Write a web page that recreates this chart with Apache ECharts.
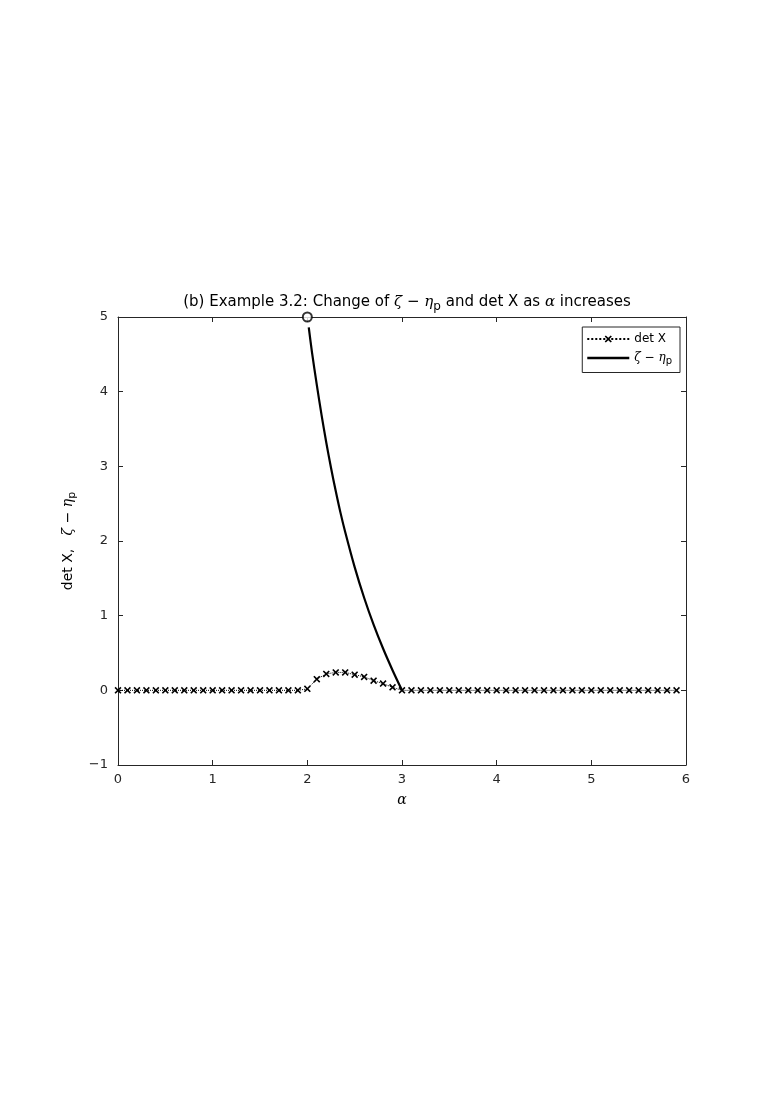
<!DOCTYPE html>
<html>
<head>
<meta charset="utf-8">
<script src="https://cdn.jsdelivr.net/npm/echarts@6/dist/echarts.min.js"></script>
<style>
body { margin: 0; background: #fff; }
#main { width: 779px; height: 1102px; }
</style>
</head>
<body>
<div id="main"></div>
<script>
// alpha samples for det X (step 0.1)
var alphaDet = [0, 0.1, 0.2, 0.3, 0.4, 0.5, 0.6, 0.7, 0.8, 0.9,
    1.0, 1.1, 1.2, 1.3, 1.4, 1.5, 1.6, 1.7, 1.8, 1.9,
    2.0, 2.1, 2.2, 2.3, 2.4, 2.5, 2.6, 2.7, 2.8, 2.9,
    3.0, 3.1, 3.2, 3.3, 3.4, 3.5, 3.6, 3.7, 3.8, 3.9,
    4.0, 4.1, 4.2, 4.3, 4.4, 4.5, 4.6, 4.7, 4.8, 4.9,
    5.0, 5.1, 5.2, 5.3, 5.4, 5.5, 5.6, 5.7, 5.8, 5.9];
var detX = [0, 0, 0, 0, 0, 0, 0, 0, 0, 0,
    0, 0, 0, 0, 0, 0, 0, 0, 0, 0,
    0.02, 0.15, 0.22, 0.24, 0.24, 0.21, 0.18, 0.13, 0.09, 0.04,
    0, 0, 0, 0, 0, 0, 0, 0, 0, 0,
    0, 0, 0, 0, 0, 0, 0, 0, 0, 0,
    0, 0, 0, 0, 0, 0, 0, 0, 0, 0];

// zeta - eta_p curve
var alphaZeta = [2.015, 2.05, 2.1, 2.15, 2.2, 2.25, 2.3, 2.35, 2.4, 2.5, 2.6, 2.7, 2.8, 2.9, 3.0];
var zetaEta = [4.86, 4.52, 4.09, 3.69, 3.32, 2.98, 2.67, 2.38, 2.12, 1.65, 1.24, 0.88, 0.56, 0.27, 0];

// start point marked with a circle
var startPoint = [2, 5];

var xTicks = [0, 6, 1];
var yTicks = [-1, 5, 1];

function pairs(xs, ys) {
    var res = [];
    for (var i = 0; i < xs.length; i++) {
        res.push([xs[i], ys[i]]);
    }
    return res;
}

var axisColor = '#262626';
var crossMark = 'path://M0,1.6L1.6,0L5,3.4L8.4,0L10,1.6L6.6,5L10,8.4L8.4,10L5,6.6L1.6,10L0,8.4L3.4,5Z';
var font = 'DejaVu Sans';
var plain = { fontFamily: font, fontSize: 14, fontWeight: 'normal', color: '#000' };
var greek = { fontFamily: 'DejaVu Serif', fontStyle: 'italic', fontWeight: 'normal', fontSize: 14, color: '#000' };
var sub = { fontFamily: font, fontSize: 11, fontWeight: 'normal', color: '#000', padding: [9, 0, 0, 0] };

var myChart = echarts.init(document.getElementById('main'));

var option = {
    animation: false,
    title: {
        text: '{n|(b) Example 3.2: Change of }{g|ζ}{n| − }{g|η}{s|p}{n| and det X as }{g|α}{n| increases}',
        left: 402,
        top: 286,
        textAlign: 'center',
        textStyle: {
            fontWeight: 'normal',
            rich: {
                n: { fontFamily: font, fontSize: 15, fontWeight: 'normal', color: '#000' },
                g: { fontFamily: 'DejaVu Serif', fontStyle: 'italic', fontWeight: 'normal', fontSize: 15, color: '#000' },
                s: { fontFamily: font, fontSize: 12, fontWeight: 'normal', color: '#000', padding: [10, 0, 0, 0] }
            }
        }
    },
    grid: {
        left: 118,
        right: 93,
        top: 317,
        bottom: 337
    },
    legend: {
        right: 99,
        top: 327,
        orient: 'vertical',
        backgroundColor: '#fff',
        borderColor: '#262626',
        borderWidth: 1,
        borderRadius: 0,
        padding: [6, 8, 6, 4],
        itemGap: 7,
        itemWidth: 42,
        itemHeight: 9,
        data: [
            { name: 'detX' },
            { name: 'zeta', icon: 'path://M0,0H40V2.2H0Z' }
        ],
        formatter: function(name) {
            if (name == 'detX') return '{n|det X}';
            return '{g|ζ}{n| − }{g|η}{s|p}';
        },
        textStyle: {
            rich: {
                n: { fontFamily: font, fontSize: 12, color: '#000' },
                g: { fontFamily: 'DejaVu Serif', fontStyle: 'italic', fontSize: 12, color: '#000' },
                s: { fontFamily: font, fontSize: 10, color: '#000', padding: [7, 0, 0, 0] }
            }
        }
    },
    xAxis: [{
        type: 'value',
        min: xTicks[0],
        max: xTicks[1],
        interval: xTicks[2],
        name: 'α',
        nameLocation: 'middle',
        nameGap: 28,
        nameTextStyle: greek,
        axisLine: { onZero: false, lineStyle: { color: axisColor } },
        axisTick: { inside: true, length: 5, lineStyle: { color: axisColor } },
        axisLabel: { fontFamily: font, fontSize: 13, color: axisColor, margin: 8 },
        splitLine: { show: false }
    }, {
        type: 'value',
        position: 'top',
        min: xTicks[0],
        max: xTicks[1],
        interval: xTicks[2],
        axisLine: { onZero: false, lineStyle: { color: axisColor } },
        axisTick: { inside: true, length: 5, lineStyle: { color: axisColor } },
        axisLabel: { show: false },
        splitLine: { show: false }
    }],
    yAxis: [{
        type: 'value',
        min: yTicks[0],
        max: yTicks[1],
        interval: yTicks[2],
        name: '{n|det X,   }{g|ζ}{n| − }{g|η}{s|p}',
        nameLocation: 'middle',
        nameGap: 34,
        nameTextStyle: {
            rich: { n: plain, g: greek, s: sub }
        },
        axisLine: { show: true, onZero: false, lineStyle: { color: axisColor } },
        axisTick: { show: true, inside: true, length: 5, lineStyle: { color: axisColor } },
        axisLabel: {
            fontFamily: font, fontSize: 13, color: axisColor, margin: 10,
            formatter: function(v) { return v < 0 ? '−' + Math.abs(v) : v; }
        },
        splitLine: { show: false }
    }, {
        type: 'value',
        position: 'right',
        min: yTicks[0],
        max: yTicks[1],
        interval: yTicks[2],
        axisLine: { show: true, onZero: false, lineStyle: { color: axisColor } },
        axisTick: { show: true, inside: true, length: 5, lineStyle: { color: axisColor } },
        axisLabel: { show: false },
        splitLine: { show: false }
    }],
    series: [{
        name: 'detX',
        type: 'line',
        data: pairs(alphaDet, detX),
        symbol: crossMark,
        symbolSize: 7,
        showAllSymbol: true,
        lineStyle: { color: '#000', width: 1, type: 'dotted' },
        itemStyle: { color: '#000' },
        z: 3
    }, {
        name: 'zeta',
        type: 'line',
        data: pairs(alphaZeta, zetaEta),
        smooth: 0.3,
        symbol: 'none',
        lineStyle: { color: '#000', width: 2.2 },
        itemStyle: { color: '#000' },
        z: 4
    }, {
        name: 'start',
        type: 'scatter',
        data: [startPoint],
        symbol: 'emptyCircle',
        symbolSize: 9,
        clip: false,
        itemStyle: { color: '#000', borderColor: '#000', borderWidth: 1.3 },
        z: 5
    }]
};

myChart.setOption(option);
</script>
</body>
</html>
